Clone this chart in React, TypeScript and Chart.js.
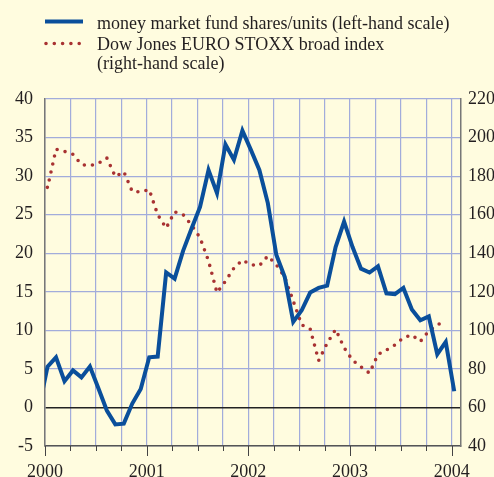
import { useEffect, useRef } from 'react';
import { Chart, registerables } from 'chart.js';

Chart.register(...registerables);

// Monthly observations (Dec 1999 is clipped by the axis start)
const months = [
  '1999-12',
  '2000-01', '2000-02', '2000-03', '2000-04', '2000-05', '2000-06', '2000-07', '2000-08', '2000-09', '2000-10', '2000-11', '2000-12',
  '2001-01', '2001-02', '2001-03', '2001-04', '2001-05', '2001-06', '2001-07', '2001-08', '2001-09', '2001-10', '2001-11', '2001-12',
  '2002-01', '2002-02', '2002-03', '2002-04', '2002-05', '2002-06', '2002-07', '2002-08', '2002-09', '2002-10', '2002-11', '2002-12',
  '2003-01', '2003-02', '2003-03', '2003-04', '2003-05', '2003-06', '2003-07', '2003-08', '2003-09', '2003-10', '2003-11', '2003-12',
  '2004-01',
];

// money market fund shares/units, annual % change (left-hand scale)
const moneyMarketFund = [
  0.0,
  5.3, 6.5, 3.4, 4.8, 3.9, 5.3, 2.5, -0.4, -2.2, -2.1, 0.5, 2.4,
  6.5, 6.6, 17.5, 16.7, 20.3, 23.2, 26.0, 30.8, 27.8, 34.1, 32.1, 35.9,
  33.4, 30.8, 26.5, 19.8, 16.9, 11.1, 12.6, 14.9, 15.5, 15.8, 20.8, 24.1,
  20.8, 18.0, 17.5, 18.3, 14.8, 14.7, 15.5, 12.7, 11.3, 11.8, 6.9, 8.5,
  2.1,
];

// Dow Jones EURO STOXX broad index (right-hand scale)
const euroStoxx: (number | null)[] = [
  181.5,
  174.0, 194.0, 192.8, 191.3, 186.0, 185.4, 186.6, 189.4, 179.7, 182.3, 172.0, 171.8,
  173.0, 160.0, 153.0, 161.5, 160.0, 154.6, 148.0, 136.0, 119.5, 125.5, 132.3, 136.4,
  134.0, 133.5, 138.6, 134.0, 127.5, 115.2, 102.8, 100.7, 84.3, 93.3, 100.5, 91.0,
  84.5, 81.0, 77.8, 87.5, 89.8, 92.4, 96.2, 97.6, 94.2, 99.7, 102.6, 105.8,
  null,
];

const yearLabels = ['2000', '2001', '2002', '2003', '2004'];
const legendLines = [
  ['money market fund shares/units (left-hand scale)'],
  ['Dow Jones EURO STOXX broad index', '(right-hand scale)'],
];

const BLUE = '#0a4f9b';
const RED = '#a83232';
const GRID = '#a2acdb';
const BG = '#fffcdf';
const TEXT = '#231f20';
const FONT = "'Liberation Serif', 'Times New Roman', serif";
const WITHIN_MONTH = 0.3; // observation position within the month

function monthToX(m: string): number {
  const [y, mo] = m.split('-').map(Number);
  return (y - 2000) * 12 + (mo - 1) + WITHIN_MONTH;
}

const bgPlugin = {
  id: 'bg',
  beforeDraw(chart: any) {
    const { ctx, width, height } = chart;
    ctx.save();
    ctx.fillStyle = BG;
    ctx.fillRect(0, 0, width, height);
    ctx.restore();
  },
};

const extrasPlugin = {
  id: 'extras',
  afterDraw(chart: any) {
    const { ctx, chartArea } = chart;
    const xs = chart.scales.x;
    ctx.save();
    // ticks below the time axis
    ctx.strokeStyle = '#444';
    ctx.lineWidth = 1;
    for (let v = 0; v <= 48; v += 3) {
      const px = Math.round(xs.getPixelForValue(v)) + 0.5;
      const len = v % 12 === 0 ? 10 : 5;
      ctx.beginPath();
      ctx.moveTo(px, chartArea.bottom);
      ctx.lineTo(px, chartArea.bottom + len);
      ctx.stroke();
    }
    // legend
    ctx.font = `18px ${FONT}`;
    ctx.fillStyle = TEXT;
    ctx.textBaseline = 'alphabetic';
    ctx.textAlign = 'left';
    ctx.strokeStyle = BLUE;
    ctx.lineWidth = 4;
    ctx.beginPath();
    ctx.moveTo(45, 21.5);
    ctx.lineTo(83, 21.5);
    ctx.stroke();
    ctx.fillText(legendLines[0][0], 97, 29);

    ctx.strokeStyle = RED;
    ctx.lineWidth = 3.6;
    ctx.lineCap = 'round';
    ctx.setLineDash([0, 8.3]);
    ctx.beginPath();
    ctx.moveTo(46, 43.5);
    ctx.lineTo(82, 43.5);
    ctx.stroke();
    ctx.setLineDash([]);
    ctx.fillText(legendLines[1][0], 97, 49.5);
    ctx.fillText(legendLines[1][1], 97, 68.5);
    ctx.restore();
  },
};

export default function App() {
  const ref = useRef<HTMLCanvasElement | null>(null);

  useEffect(() => {
    document.body.style.margin = '0';
    document.body.style.background = BG;
    if (!ref.current) return;
    Chart.defaults.font.family = FONT;
    const xs = months.map(monthToX);
    const chart = new Chart(ref.current, {
      type: 'line',
      data: {
        datasets: [
          {
            label: legendLines[0].join(' '),
            data: xs.map((x, i) => ({ x, y: moneyMarketFund[i] })),
            borderColor: BLUE,
            borderWidth: 4,
            borderJoinStyle: 'miter',
            pointRadius: 0,
            tension: 0,
            yAxisID: 'y',
            clip: 0,
            order: 1,
          },
          {
            label: legendLines[1].join(' '),
            data: xs.map((x, i) => ({ x, y: euroStoxx[i] as any })),
            borderColor: RED,
            borderWidth: 3.6,
            borderDash: [0, 8.2],
            borderCapStyle: 'round',
            pointRadius: 0,
            tension: 0,
            yAxisID: 'y1',
            clip: 0,
            spanGaps: false,
            order: 2,
          },
        ],
      },
      options: {
        responsive: false,
        animation: false,
        layout: { padding: { top: 99, left: 0, right: 0, bottom: 0 } },
        plugins: { legend: { display: false }, tooltip: { enabled: false } },
        scales: {
          x: {
            type: 'linear',
            min: 0,
            max: 49.1,
            afterFit: (s: any) => { s.height = 31; },
            grid: { color: GRID, lineWidth: 1.2, drawTicks: false },
            border: { color: '#555', width: 1.5 },
            ticks: {
              stepSize: 3,
              includeBounds: false,
              autoSkip: false,
              maxRotation: 0,
              padding: 15,
              color: TEXT,
              font: { size: 18, family: FONT },
              callback: (v: any) => (Number(v) % 12 === 0 ? yearLabels[Number(v) / 12] : ''),
            },
          },
          y: {
            position: 'left',
            min: -5,
            max: 40,
            afterFit: (s: any) => { s.width = 45; },
            grid: {
              color: (c: any) => (c.tick && c.tick.value === 0 ? '#222' : GRID),
              lineWidth: (c: any) => (c.tick && c.tick.value === 0 ? 1.6 : 1.2),
              drawTicks: false,
            },
            border: { color: '#777', width: 1.5 },
            ticks: { stepSize: 5, padding: 12, color: TEXT, font: { size: 18, family: FONT } },
          },
          y1: {
            position: 'right',
            min: 40,
            max: 220,
            afterFit: (s: any) => { s.width = 33; },
            grid: { drawOnChartArea: false, drawTicks: false },
            border: { color: '#777', width: 1.5 },
            ticks: { stepSize: 20, padding: 7, color: TEXT, font: { size: 18, family: FONT } },
          },
        },
      } as any,
      plugins: [bgPlugin, extrasPlugin],
    });
    return () => chart.destroy();
  }, []);

  return (
    <div style={{ width: 494, height: 477 }}>
      <canvas ref={ref} width={494} height={477} style={{ display: 'block' }} />
    </div>
  );
}
